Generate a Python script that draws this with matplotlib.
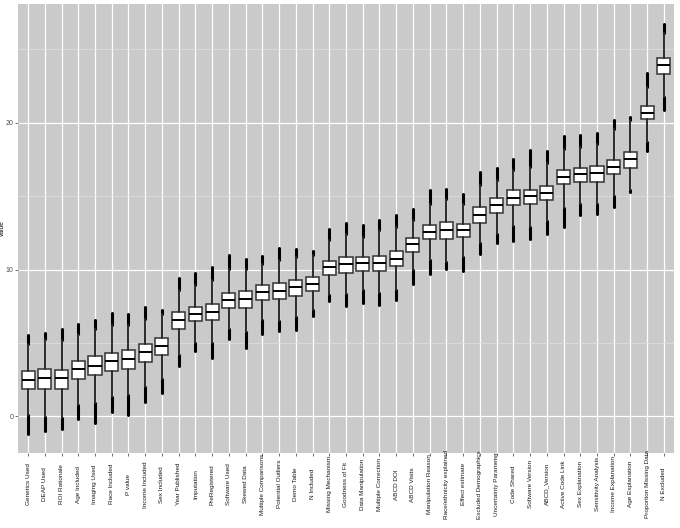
import matplotlib
matplotlib.use("Agg")
from matplotlib import pyplot as plt

plt.rcParams['font.family'] = ['Liberation Sans', 'DejaVu Sans']

labels = ['Genetics Used', 'DEAP Used', 'ROI Rationale', 'Age Included', 'Imaging Used',
          'Race Included', 'P value', 'Income Included', 'Sex Included', 'Year Published',
          'Imputation', 'PreRegistered', 'Software Used', 'Skewed Data',
          'Multiple Comparisons', 'Potential Outliers', 'Demo Table', 'N Included',
          'Missing Mechanism', 'Goodness of Fit', 'Data Manipulation',
          'Multiple Correction', 'ABCD DOI', 'ABCD Visits', 'Manipulation Reason',
          'Race/ethnicity explained', 'Effect estimate', 'Excluded Demographics',
          'Uncertainty Parameter', 'Code Shared', 'Software Version', 'ABCD_Version',
          'Active Code Link', 'Sex Explanation', 'Sensitivity Analysis',
          'Income Explanation', 'Age Explanation', 'Proportion Missing Data', 'N Excluded']

med = [2.45, 2.61, 2.59, 3.25, 3.43, 3.75, 3.91, 4.36, 4.8, 6.55, 7.0, 7.09, 7.91, 7.98,
       8.48, 8.57, 8.82, 9.05, 10.16, 10.36, 10.43, 10.45, 10.75, 11.73, 12.57, 12.7,
       12.68, 13.73, 14.39, 14.91, 15.0, 15.23, 16.32, 16.5, 16.55, 17.0, 17.52, 20.68, 23.93]
q1 = [1.86, 1.89, 1.86, 2.55, 2.82, 3.09, 3.25, 3.73, 4.2, 5.93, 6.5, 6.59, 7.39, 7.39,
      7.95, 8.02, 8.23, 8.57, 9.66, 9.8, 9.93, 9.91, 10.23, 11.2, 12.07, 12.11, 12.23,
      13.2, 13.89, 14.41, 14.45, 14.73, 15.8, 15.95, 16.0, 16.5, 16.95, 20.23, 23.36]
q3 = [3.09, 3.25, 3.18, 3.77, 4.11, 4.32, 4.5, 4.91, 5.32, 7.11, 7.47, 7.64, 8.41, 8.52,
      8.95, 9.11, 9.32, 9.52, 10.61, 10.86, 10.89, 10.95, 11.27, 12.14, 13.07, 13.23,
      13.14, 14.27, 14.9, 15.4, 15.45, 15.73, 16.82, 16.95, 17.09, 17.45, 18.02, 21.18, 24.45]
whi = [4.95, 5.3, 5.2, 5.64, 5.93, 6.2, 6.2, 6.66, 7.0, 8.6, 8.93, 9.27, 10.07, 10.07,
       10.4, 10.64, 10.86, 10.98, 12.05, 12.4, 12.23, 12.68, 12.9, 13.36, 14.5, 14.84,
       14.45, 15.75, 16.1, 16.77, 17.0, 17.23, 18.25, 18.36, 18.55, 19.6, 20.2, 22.41, 26.09]
out_hi = [5.52, 5.68, 5.98, 6.27, 6.59, 7.05, 7.0, 7.45, 7.27, 9.43, 9.75, 10.18, 11.0,
          10.75, 10.9, 11.5, 11.39, 11.27, 12.77, 13.18, 13.02, 13.36, 13.7, 14.11, 15.45,
          15.52, 15.14, 16.66, 16.89, 17.55, 18.14, 18.09, 19.09, 19.2, 19.34, 20.2, 20.41,
          23.41, 26.73]
wlo = [0.07, -0.05, -0.1, 0.75, 0.91, 1.32, 1.43, 2.0, 2.57, 4.2, 5.0, 5.0, 5.98, 5.75,
       6.55, 6.5, 6.77, 7.23, 8.25, 8.32, 8.59, 8.41, 8.64, 9.95, 10.64, 10.52, 10.86,
       11.82, 12.45, 13.0, 12.9, 13.32, 14.23, 14.5, 14.5, 15.0, 15.4, 18.7, 21.77]
out_lo = [-1.2, -1.02, -0.84, -0.16, -0.43, 0.3, 0.11, 0.98, 1.59, 3.43, 4.43, 4.0, 5.3,
          4.68, 5.6, 5.82, 5.86, 6.82, 7.86, 7.5, 7.73, 7.57, 7.9, 9.0, 9.73, 10.07, 9.89,
          11.05, 11.82, 11.95, 12.11, 12.45, 12.9, 13.7, 13.77, 14.27, 15.3, 18.09, 20.86]

fig = plt.figure(figsize=(6.8, 5.28), dpi=100)
ax = fig.add_axes([18 / 680, 1 - 453 / 528, (674 - 18) / 680, (453 - 4) / 528])
ax.set_facecolor('#CACACA')

pos = list(range(1, len(labels) + 1))
stats = []
for i in range(len(labels)):
    stats.append({'med': med[i], 'q1': q1[i], 'q3': q3[i],
                  'whislo': wlo[i], 'whishi': whi[i], 'fliers': []})

# whiskers, then the dense outlier clouds as thick segments beyond them
ax.vlines(pos, q3, whi, colors='#2b2b2b', linewidth=1.2, zorder=2.5)
ax.vlines(pos, wlo, q1, colors='#2b2b2b', linewidth=1.2, zorder=2.5)
ax.vlines(pos, whi, out_hi, colors='black', linewidth=2.2, zorder=2, capstyle='round')
ax.vlines(pos, out_lo, wlo, colors='black', linewidth=2.2, zorder=2, capstyle='round')

ax.bxp(stats, positions=pos, widths=0.78, showfliers=False, showcaps=False,
       patch_artist=True,
       boxprops=dict(facecolor='white', edgecolor='#333333', linewidth=1.1),
       medianprops=dict(color='black', linewidth=1.4),
       whiskerprops=dict(color='#2b2b2b', linewidth=1.2),
       zorder=3)

ax.set_xlim(0.4, len(labels) + 0.6)
ax.set_ylim(-2.5, 28.1)
ax.set_yticks([0, 10, 20])
ax.set_yticks([5, 15, 25], minor=True)
ax.set_xticks(pos)
ax.set_xticklabels(labels, rotation=90, ha='center', va='center', fontsize=4.6,
                   color='#1a1a1a')
ax.tick_params(axis='x', length=2, width=0.5, color='#333333', pad=20.5)
ax.tick_params(axis='y', which='major', length=2, width=0.5, color='#333333', pad=1.5,
               labelsize=5, labelcolor='#4d4d4d')
ax.tick_params(axis='y', which='minor', length=0)

ax.grid(True, which='major', color='white', linewidth=0.9)
ax.grid(True, which='minor', axis='y', color='#e2e2e2', linewidth=0.5)
ax.set_axisbelow(True)
for s in ax.spines.values():
    s.set_visible(False)

ax.set_ylabel('value', fontsize=4.8)
ax.yaxis.set_label_coords(-12 / 656, 0.5)

fig.savefig('out.png', dpi=100)
